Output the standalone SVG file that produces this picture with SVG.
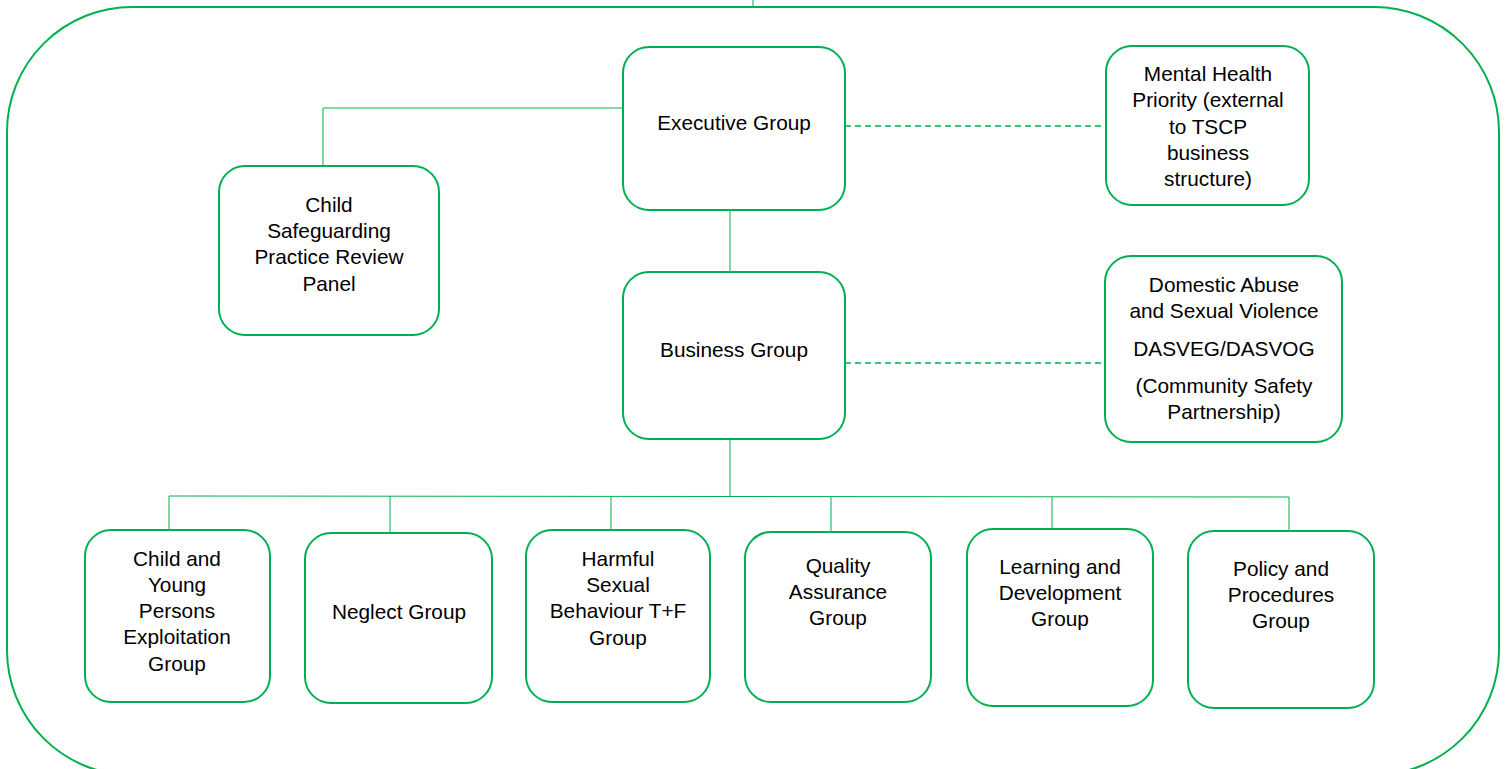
<svg xmlns="http://www.w3.org/2000/svg" width="1505" height="769" viewBox="0 0 1505 769">
  <style>
    .frame { fill: none; stroke: #00B050; stroke-width: 2; }
    .box { fill: #FFFFFF; stroke: #00B050; stroke-width: 2; }
    .link { fill: none; stroke: #00B050; stroke-width: 1; }
    .dash { fill: none; stroke: #00B050; stroke-width: 1.5; stroke-dasharray: 6 4; }
    text { font-family: "Liberation Sans", Arial, sans-serif; font-size: 20.8px; fill: #000000; text-anchor: middle; }
  </style>
  <rect width="1505" height="769" fill="#FFFFFF"/>

  <!-- outer boundary -->
  <rect class="frame" x="7" y="7" width="1492" height="768" rx="125" ry="125"/>
  <line class="link" x1="753" y1="0" x2="753" y2="7"/>

  <!-- connectors -->
  <g id="connectors">
    <polyline class="link" points="623,108 323,108 323,166"/>
    <line class="link" x1="730" y1="210" x2="730" y2="272"/>
    <line class="dash" x1="845" y1="126" x2="1106" y2="126"/>
    <line class="dash" x1="845" y1="363" x2="1105" y2="363"/>
    <line class="link" x1="730" y1="439" x2="730" y2="496"/>
    <polyline class="link" points="169,530 169,496 1289,497 1289,531"/>
    <line class="link" x1="390" y1="496" x2="390" y2="533"/>
    <line class="link" x1="611" y1="496" x2="611" y2="530"/>
    <line class="link" x1="831" y1="497" x2="831" y2="532"/>
    <line class="link" x1="1052" y1="497" x2="1052" y2="529"/>
  </g>

  <g id="executive-group">
    <rect class="box" x="623" y="47" width="222" height="163" rx="26"/>
    <text x="734" y="130">Executive Group</text>
  </g>

  <g id="mental-health">
    <rect class="box" x="1106" y="46" width="203" height="159" rx="26"/>
    <text x="1208" y="81">Mental Health</text>
    <text x="1208" y="107">Priority (external</text>
    <text x="1208" y="134">to TSCP</text>
    <text x="1208" y="160">business</text>
    <text x="1208" y="186">structure)</text>
  </g>

  <g id="practice-review-panel">
    <rect class="box" x="219" y="166" width="220" height="169" rx="26"/>
    <text x="329" y="212">Child</text>
    <text x="329" y="238">Safeguarding</text>
    <text x="329" y="264">Practice Review</text>
    <text x="329" y="291">Panel</text>
  </g>

  <g id="business-group">
    <rect class="box" x="623" y="272" width="222" height="167" rx="26"/>
    <text x="734" y="357">Business Group</text>
  </g>

  <g id="domestic-abuse">
    <rect class="box" x="1105" y="256" width="237" height="186" rx="26"/>
    <text x="1224" y="292">Domestic Abuse</text>
    <text x="1224" y="318">and Sexual Violence</text>
    <text x="1224" y="356">DASVEG/DASVOG</text>
    <text x="1224" y="393">(Community Safety</text>
    <text x="1224" y="419">Partnership)</text>
  </g>

  <g id="exploitation-group">
    <rect class="box" x="85" y="530" width="185" height="172" rx="26"/>
    <text x="177" y="566">Child and</text>
    <text x="177" y="592">Young</text>
    <text x="177" y="618">Persons</text>
    <text x="177" y="644">Exploitation</text>
    <text x="177" y="671">Group</text>
  </g>

  <g id="neglect-group">
    <rect class="box" x="305" y="533" width="187" height="170" rx="26"/>
    <text x="399" y="619">Neglect Group</text>
  </g>

  <g id="harmful-sexual-behaviour">
    <rect class="box" x="526" y="530" width="184" height="172" rx="26"/>
    <text x="618" y="566">Harmful</text>
    <text x="618" y="592">Sexual</text>
    <text x="618" y="618">Behaviour T+F</text>
    <text x="618" y="645">Group</text>
  </g>

  <g id="quality-assurance">
    <rect class="box" x="745" y="532" width="186" height="170" rx="26"/>
    <text x="838" y="573">Quality</text>
    <text x="838" y="599">Assurance</text>
    <text x="838" y="625">Group</text>
  </g>

  <g id="learning-development">
    <rect class="box" x="967" y="529" width="186" height="177" rx="26"/>
    <text x="1060" y="574">Learning and</text>
    <text x="1060" y="600">Development</text>
    <text x="1060" y="626">Group</text>
  </g>

  <g id="policy-procedures">
    <rect class="box" x="1188" y="531" width="186" height="177" rx="26"/>
    <text x="1281" y="576">Policy and</text>
    <text x="1281" y="602">Procedures</text>
    <text x="1281" y="628">Group</text>
  </g>
</svg>
